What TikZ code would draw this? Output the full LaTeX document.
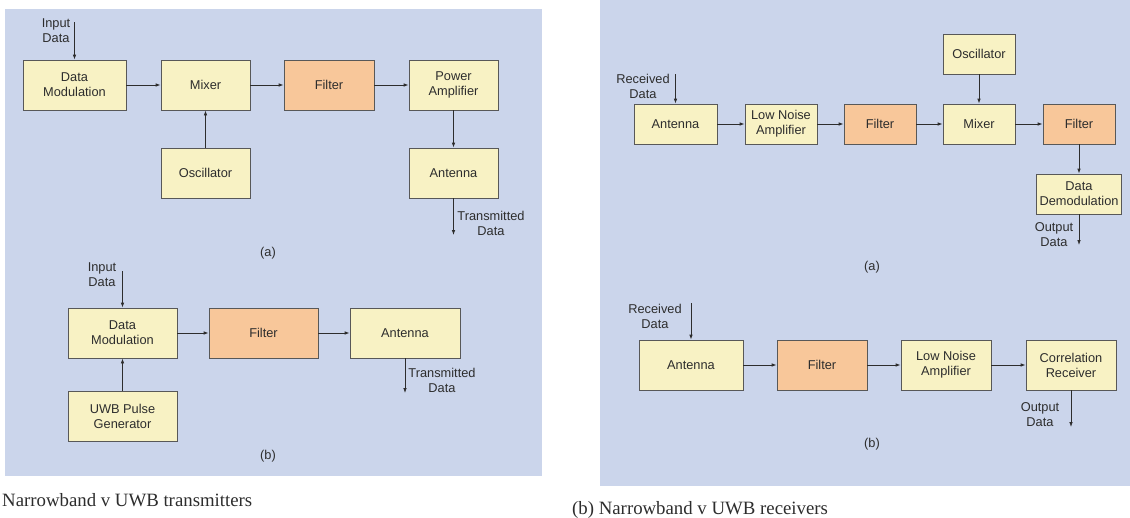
\documentclass[tikz,border=0pt]{standalone}
\usepackage{fontspec}
\setmainfont{Liberation Serif}
\setsansfont{Liberation Sans}
\usetikzlibrary{arrows.meta}
\definecolor{panel}{RGB}{203,213,235}
\definecolor{yel}{RGB}{248,242,196}
\definecolor{org}{RGB}{248,199,154}
\definecolor{edge}{RGB}{88,88,88}
\definecolor{ink}{RGB}{45,45,45}
\begin{document}
\begin{tikzpicture}[x=1pt,y=-1pt,
  lbl/.style={font=\sffamily\fontsize{12.8}{15}\selectfont, text=ink, align=center, inner sep=0pt},
  sz/.style 2 args={minimum width=#1pt, minimum height=#2pt},
  yb/.style={lbl, draw=edge, line width=0.8pt, fill=yel},
  ob/.style={lbl, draw=edge, line width=0.8pt, fill=org},
  wire/.style={draw=ink, line width=0.8pt, -{Latex[length=5pt,width=3.6pt]}},
  captext/.style={anchor=base west, inner sep=0pt, text=ink, font=\fontsize{18.8}{21}\selectfont}
]
\useasboundingbox (0,0) rectangle (1130,517);
% background panels
\fill[panel] (5,9) rectangle (542,476);
\fill[panel] (600,0) rectangle (1130,486);

% ---------- narrowband transmitter ----------
\node[yb, sz={103}{50}] (dmA)  at (74.5,85)  {Data\\Modulation};
\node[yb, sz={89}{50}]  (mixA) at (205.5,85) {Mixer};
\node[ob, sz={90}{50}]  (fltA) at (329,85)   {Filter};
\node[yb, sz={89}{50}]  (paA)  at (453.5,85) {Power\\Amplifier};
\node[yb, sz={89}{50}]  (oscA) at (205.5,173) {Oscillator};
\node[yb, sz={89}{50}]  (antA) at (453.5,173) {Antenna};
\coordinate (inA) at (74.5,22);
\coordinate (outA) at (453.5,235);
\node[lbl] (inAl)  at (56,30.5) {Input\\Data};
\node[lbl] (outAl) at (491,223) {Transmitted\\Data};
\node[lbl] (tagTA) at (268,253) {(a)};
\draw[wire] (inA) -- (dmA);
\draw[wire] (dmA) -- (mixA);
\draw[wire] (mixA) -- (fltA);
\draw[wire] (fltA) -- (paA);
\draw[wire] (oscA) -- (mixA);
\draw[wire] (paA) -- (antA);
\draw[wire] (antA) -- (outA);

% ---------- UWB transmitter ----------
\node[yb, sz={109}{50}] (dmB)  at (122.5,333) {Data\\Modulation};
\node[ob, sz={109}{50}] (fltB) at (263.5,333) {Filter};
\node[yb, sz={110}{50}] (antB) at (405,333)   {Antenna};
\node[yb, sz={109}{50}] (uwbB) at (122.5,416) {UWB Pulse\\Generator};
\coordinate (inB) at (122.5,271);
\coordinate (outB) at (405,393);
\node[lbl] (inBl)  at (102,274.5) {Input\\Data};
\node[lbl] (outBl) at (442,380) {Transmitted\\Data};
\node[lbl] (tagTB) at (268,456) {(b)};
\draw[wire] (inB) -- (dmB);
\draw[wire] (dmB) -- (fltB);
\draw[wire] (fltB) -- (antB);
\draw[wire] (uwbB) -- (dmB);
\draw[wire] (antB) -- (outB);

% ---------- narrowband receiver ----------
\node[yb, sz={83}{40}] (antRA)  at (675.5,124) {Antenna};
\node[yb, sz={72}{40}] (lnaRA)  at (781,124)   {Low Noise\\Amplifier};
\node[ob, sz={72}{40}] (fltRA)  at (880,124)   {Filter};
\node[yb, sz={72}{40}] (mixRA)  at (979,124)   {Mixer};
\node[ob, sz={72}{40}] (flt2RA) at (1079,124)  {Filter};
\node[yb, sz={72}{40}] (oscRA)  at (979,54)    {Oscillator};
\node[yb, sz={85}{40}] (ddRA)   at (1079,194)  {Data\\Demodulation};
\coordinate (inRA) at (675.5,74);
\coordinate (outRA) at (1079,245);
\node[lbl] (inRAl)  at (643,86)     {Received\\Data};
\node[lbl] (outRAl) at (1054,234.5) {Output\\Data};
\node[lbl] (tagRA)  at (872,267)    {(a)};
\draw[wire] (inRA) -- (antRA);
\draw[wire] (antRA) -- (lnaRA);
\draw[wire] (lnaRA) -- (fltRA);
\draw[wire] (fltRA) -- (mixRA);
\draw[wire] (mixRA) -- (flt2RA);
\draw[wire] (oscRA) -- (mixRA);
\draw[wire] (flt2RA) -- (ddRA);
\draw[wire] (ddRA) -- (outRA);

% ---------- UWB receiver ----------
\node[yb, sz={104}{50}] (antRB) at (691,365)  {Antenna};
\node[ob, sz={90}{50}]  (fltRB) at (822,365)  {Filter};
\node[yb, sz={90}{50}]  (lnaRB) at (946,365)  {Low Noise\\Amplifier};
\node[yb, sz={90}{50}]  (crRB)  at (1071,365) {Correlation\\Receiver};
\coordinate (inRB) at (691,303);
\coordinate (outRB) at (1071,427);
\node[lbl] (inRBl)  at (655,316.5)  {Received\\Data};
\node[lbl] (outRBl) at (1040,414.5) {Output\\Data};
\node[lbl] (tagRB)  at (872,444)    {(b)};
\draw[wire] (inRB) -- (antRB);
\draw[wire] (antRB) -- (fltRB);
\draw[wire] (fltRB) -- (lnaRB);
\draw[wire] (lnaRB) -- (crRB);
\draw[wire] (crRB) -- (outRB);

% ---------- captions ----------
\node[captext] (capT) at (2,506)   {Narrowband v UWB transmitters};
\node[captext] (capR) at (572,514) {(b) Narrowband v UWB receivers};
\end{tikzpicture}
\end{document}
